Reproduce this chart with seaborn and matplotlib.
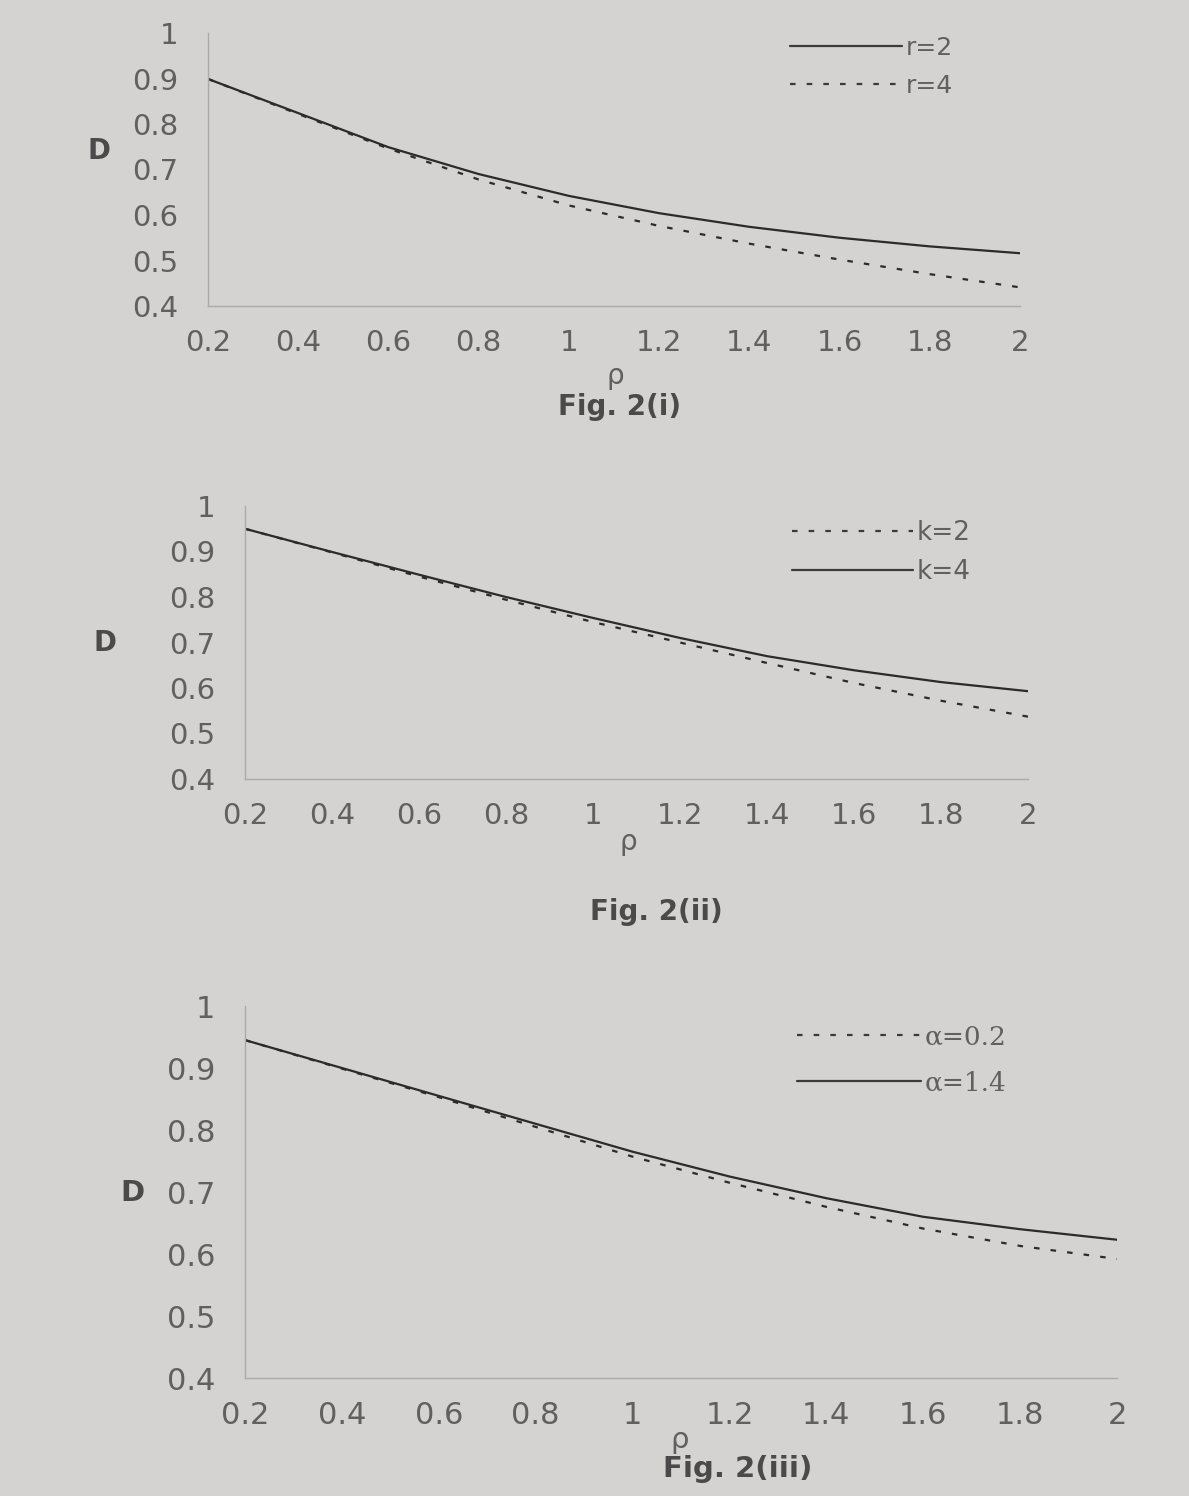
import numpy as np
import pandas as pd
import matplotlib
matplotlib.use("Agg")
import matplotlib.pyplot as plt
import seaborn as sns

# ---- data ----
rho = [0.2, 0.4, 0.6, 0.8, 1.0, 1.2, 1.4, 1.6, 1.8, 2.0]

d_r2 = [0.899, 0.824, 0.749, 0.690, 0.642, 0.604, 0.574, 0.550, 0.531, 0.516]
d_r4 = [0.899, 0.822, 0.746, 0.678, 0.621, 0.576, 0.537, 0.502, 0.470, 0.441]

d_k2 = [0.950, 0.898, 0.845, 0.794, 0.745, 0.700, 0.655, 0.611, 0.572, 0.537]
d_k4 = [0.950, 0.899, 0.849, 0.800, 0.754, 0.710, 0.670, 0.639, 0.613, 0.593]

d_a02 = [0.945, 0.899, 0.853, 0.805, 0.757, 0.715, 0.676, 0.641, 0.613, 0.592]
d_a14 = [0.945, 0.900, 0.855, 0.810, 0.765, 0.725, 0.690, 0.660, 0.640, 0.623]

x_ticks = [0.2, 0.4, 0.6, 0.8, 1.0, 1.2, 1.4, 1.6, 1.8, 2.0]
y_ticks = [0.4, 0.5, 0.6, 0.7, 0.8, 0.9, 1.0]

W, H = 1189, 1496
BG = "#d5d3d1"
TXT = "#606060"
SPINE = "#aaaaaa"

sns.set_theme(style="white")
plt.rcParams["font.family"] = ["DejaVu Sans"]

fig = plt.figure(figsize=(W / 100, H / 100), dpi=100)
fig.patch.set_facecolor(BG)


def fmt(v):
    s = f"{v:.1f}"
    return s[:-2] if s.endswith(".0") else s


def px_rect(l, t, r, b):
    return [l / W, 1 - b / H, (r - l) / W, (b - t) / H]


def make_axes(rect, fs):
    ax = fig.add_axes(rect)
    ax.set_facecolor("none")
    ax.set_xlim(0.2, 2.0)
    ax.set_ylim(0.4, 1.0)
    ax.set_xticks(x_ticks)
    ax.set_yticks(y_ticks)
    ax.set_xticklabels([fmt(v) for v in x_ticks])
    ax.set_yticklabels([fmt(v) for v in y_ticks])
    for s in ["top", "right"]:
        ax.spines[s].set_visible(False)
    for s in ["left", "bottom"]:
        ax.spines[s].set_color(SPINE)
        ax.spines[s].set_linewidth(1.0)
    ax.tick_params(axis="both", which="major", direction="inout", length=7,
                   width=0.9, color=SPINE, labelcolor=TXT, labelsize=fs)
    ax.tick_params(axis="x", pad=13)
    ax.tick_params(axis="y", pad=18)
    return ax


def draw(ax, series, labels, styles, legend_anchor, fs, handle_px, spacing,
         legend_font=None):
    frames = []
    for vals, lab in zip(series, labels):
        frames.append(pd.DataFrame({"rho": rho, "D": vals, "curve": lab}))
    df = pd.concat(frames, ignore_index=True)
    dash_map = {lab: st for lab, st in zip(labels, styles)}
    sns.lineplot(data=df, x="rho", y="D", hue="curve", style="curve",
                 palette={lab: "#2b2b2b" for lab in labels},
                 dashes=dash_map, linewidth=1.6, ax=ax, legend=True)
    ax.set_xlabel("")
    ax.set_ylabel("")
    handles, labs = ax.get_legend_handles_labels()
    prop = {"size": fs}
    if legend_font:
        prop["family"] = legend_font
    fpx = fs * 100 / 72
    leg = ax.legend(handles, labs, loc="upper left", bbox_to_anchor=legend_anchor,
                    bbox_transform=fig.transFigure, frameon=False,
                    handlelength=handle_px / fpx, handletextpad=0.15,
                    labelspacing=spacing, prop=prop, borderaxespad=0,
                    borderpad=0)
    for t in leg.get_texts():
        t.set_color(TXT)
    for h in leg.get_lines():
        h.set_color("#3a3a3a")


DOT = (2.5, 5)

# Fig 2(i)
ax1 = make_axes(px_rect(208, 33, 1020, 306), 21)
draw(ax1, [d_r2, d_r4], ["r=2", "r=4"], ["", DOT],
     (790 / W, 1 - 36 / H), 18, 112, 0.55)

# Fig 2(ii)
ax2 = make_axes(px_rect(245, 506, 1028, 779), 21)
draw(ax2, [d_k2, d_k4], ["k=2", "k=4"], [DOT, ""],
     (792 / W, 1 - 520 / H), 19, 121, 0.5)

# Fig 2(iii)
ax3 = make_axes(px_rect(245, 1006, 1117, 1378), 22)
draw(ax3, [d_a02, d_a14], ["α=0.2", "α=1.4"], [DOT, ""],
     (797 / W, 1 - 1024 / H), 19, 124, 0.8,
     legend_font=["DejaVu Serif"])


def ftext(x, y, s, size, bold=False, ha="center"):
    fig.text(x / W, 1 - y / H, s, ha=ha, va="center", fontsize=size,
             color=TXT if not bold else "#4a4a4a",
             fontweight="bold" if bold else "normal")


# axis letters and captions
ftext(99, 151, "D", 20, bold=True)
ftext(615, 376, "ρ", 20)
ftext(620, 407, "Fig. 2(i)", 20, bold=True)

ftext(105, 643, "D", 20, bold=True)
ftext(628, 842, "ρ", 20)
ftext(656, 912, "Fig. 2(ii)", 20, bold=True)

ftext(132, 1193, "D", 21, bold=True)
ftext(680, 1440, "ρ", 21)
ftext(738, 1469, "Fig. 2(iii)", 21, bold=True)

fig.savefig("out.png", dpi=100, facecolor=BG)
